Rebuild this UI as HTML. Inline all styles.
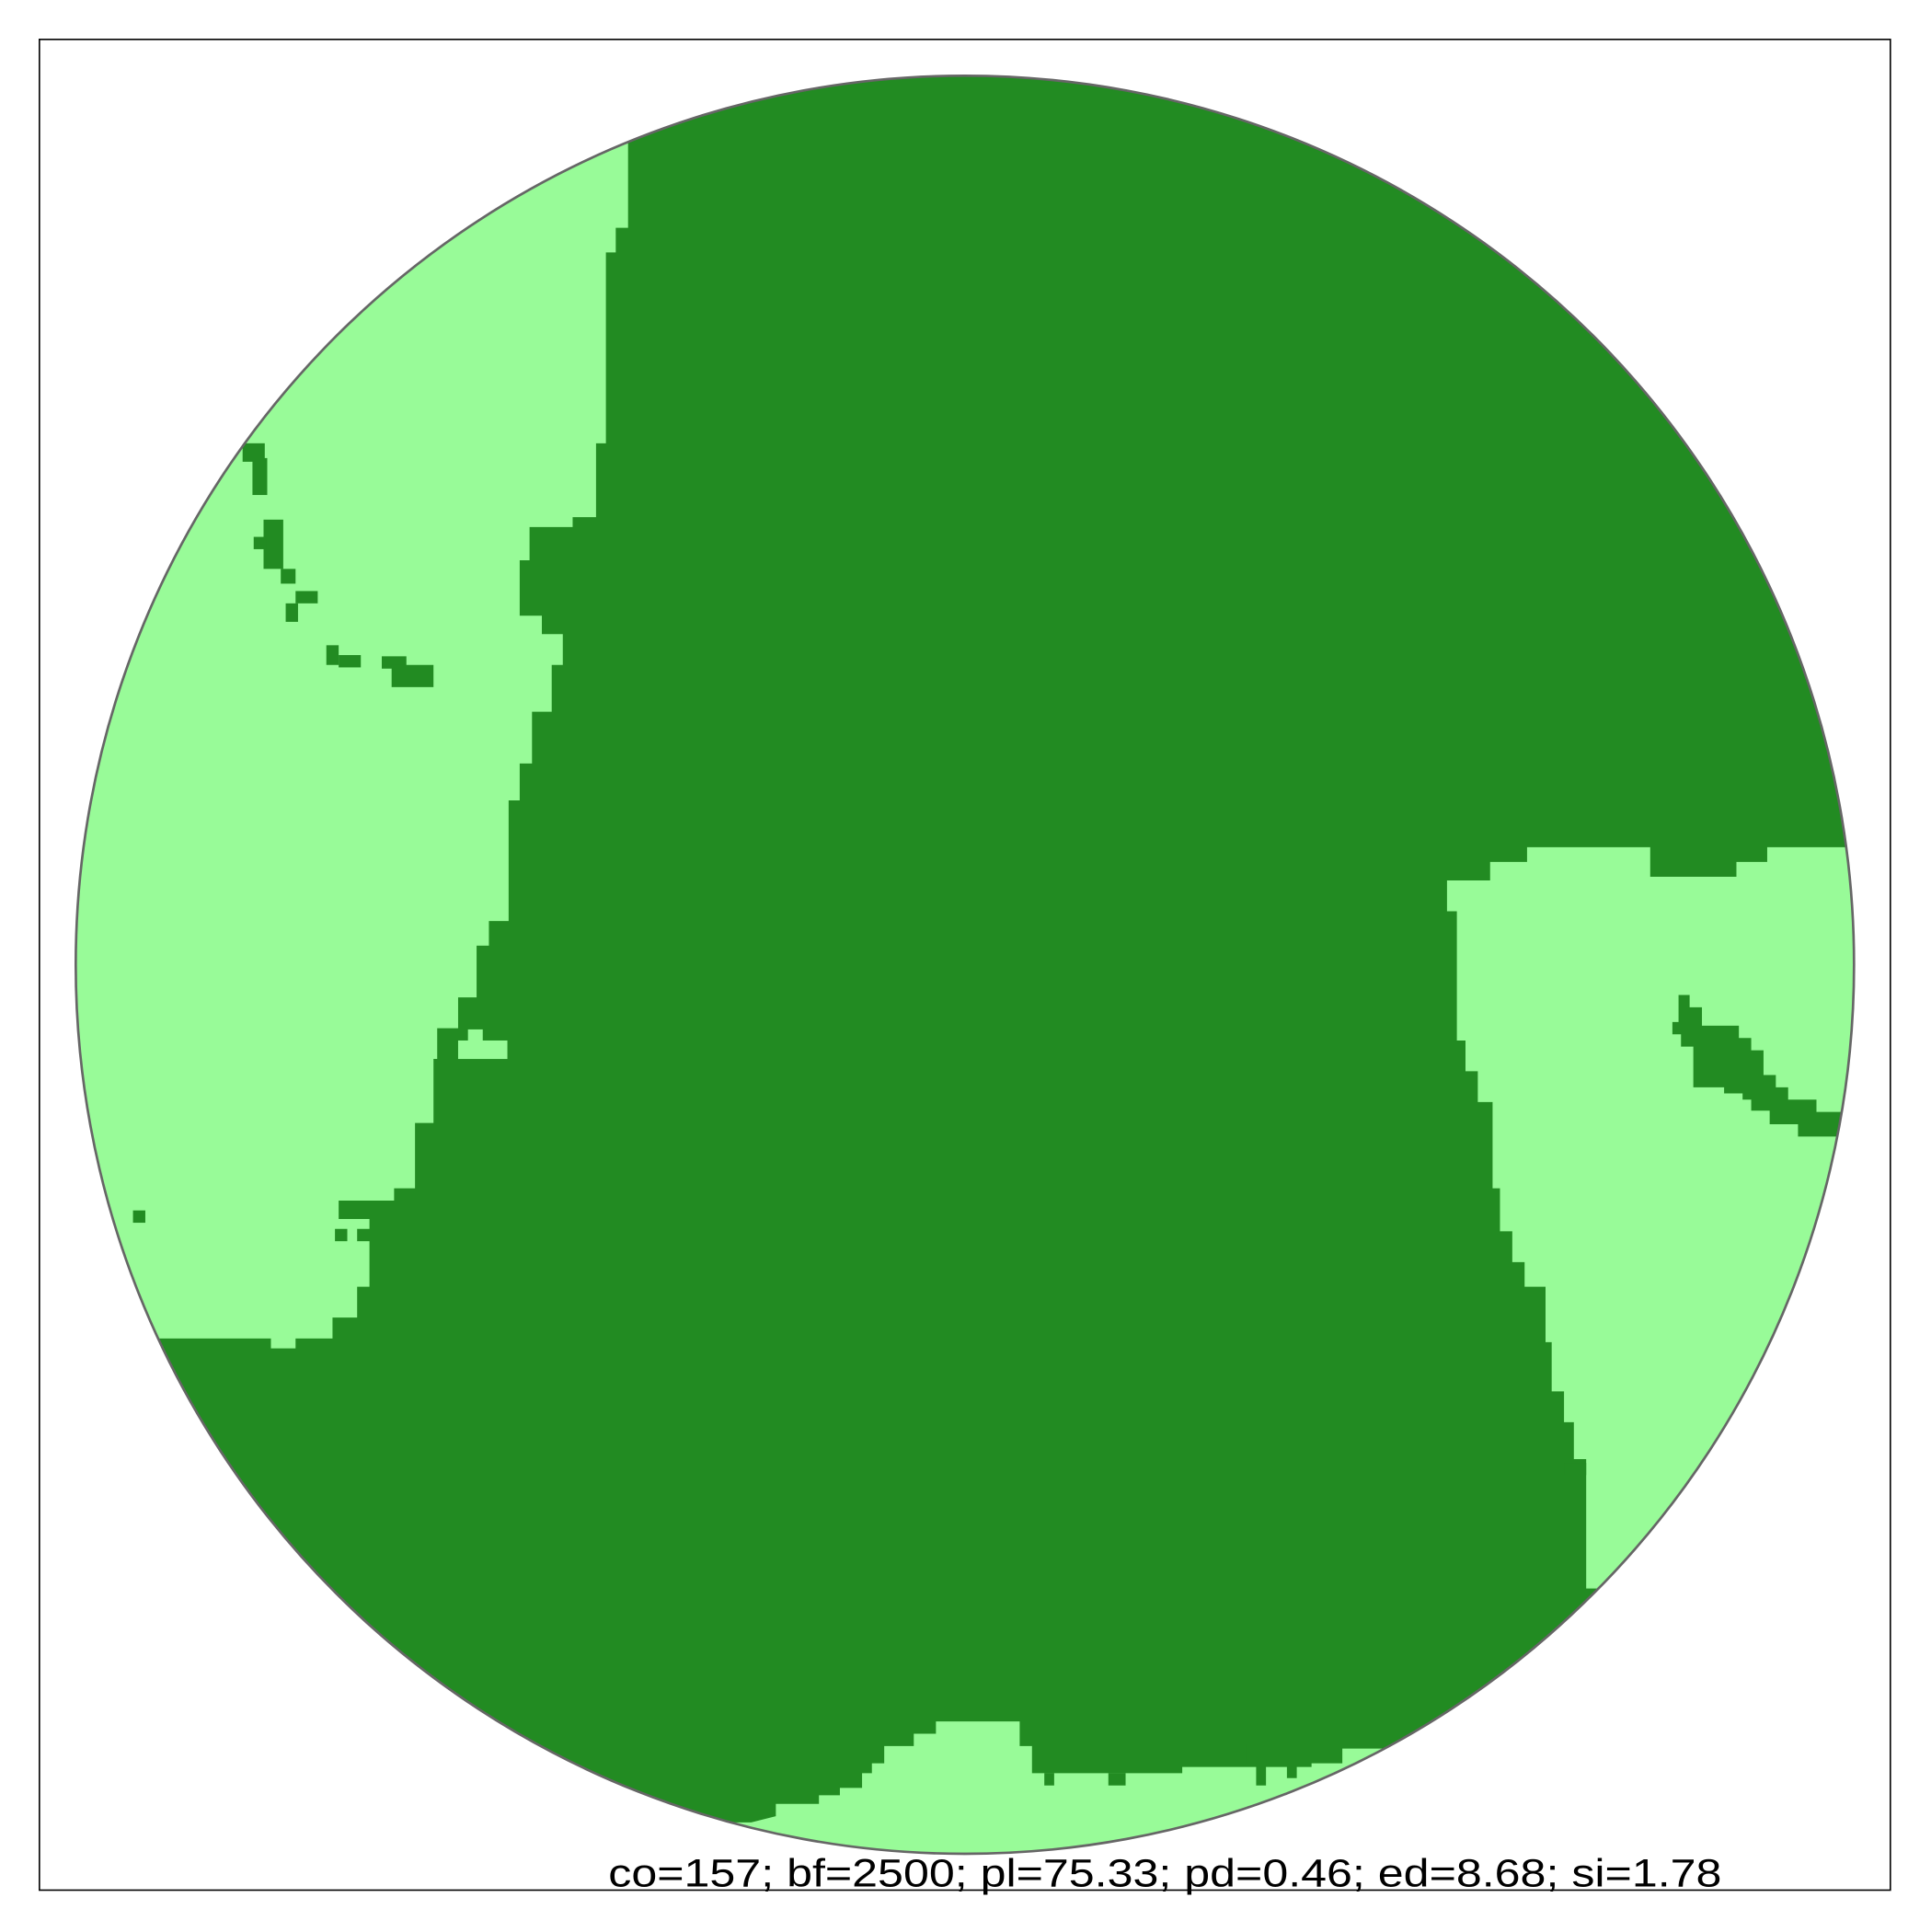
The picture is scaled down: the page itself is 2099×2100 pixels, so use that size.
<!DOCTYPE html>
<html><head><meta charset="utf-8"><style>
html,body{margin:0;padding:0;background:#fff;}
svg{display:block;}
</style></head><body>
<svg width="2099" height="2100" viewBox="0 0 1568 1569" preserveAspectRatio="none" xmlns="http://www.w3.org/2000/svg">
<defs><clipPath id="cc"><circle cx="783.5" cy="783.5" r="722"/></clipPath></defs>
<rect x="32" y="32" width="1503" height="1503" fill="#fff" stroke="#000" stroke-width="1.2"/>
<g clip-path="url(#cc)" id="mapg">
<circle cx="783.5" cy="783.5" r="722" fill="#228B22"/>
</g>
<circle cx="783.5" cy="783.5" r="722" fill="none" stroke="#666" stroke-width="2"/>
<text x="946" y="1532" text-anchor="middle" font-family="Liberation Sans, sans-serif" font-size="32" fill="#000" textLength="904" lengthAdjust="spacingAndGlyphs">co=157; bf=2500; pl=75.33; pd=0.46; ed=8.68; si=1.78</text>
</svg>
<script>
const leftPatch=[[510,0],[510,185],[500,185],[500,205],[492,205],[492,360],[484,360],[484,420],[465,420],[465,428],[430,428],[430,455],[422,455],[422,500],[440,500],[440,515],[457,515],[457,540],[448,540],[448,578],[432,578],[432,620],[422,620],[422,650],[413,650],[413,748],[397,748],[397,768],[387,768],[387,810],[372,810],[372,835],[355,835],[355,860],[352,860],[352,912],[337,912],[337,965],[320,965],[320,975],[275,975],[275,990],[300,990],[300,1045],[290,1045],[290,1070],[270,1070],[270,1087],[240,1087],[240,1095],[220,1095],[220,1087],[0,1087],[0,0]];
const rightPatch=[[1175,715],[1210,715],[1210,700],[1240,700],[1240,688],[1340,688],[1340,712],[1410,712],[1410,700],[1435,700],[1435,688],[1600,688],[1600,1290],[1288,1290],[1288,1185],[1278,1185],[1278,1155],[1270,1155],[1270,1130],[1260,1130],[1260,1090],[1255,1090],[1255,1045],[1238,1045],[1238,1025],[1228,1025],[1228,1000],[1218,1000],[1218,965],[1212,965],[1212,895],[1200,895],[1200,870],[1190,870],[1190,845],[1183,845],[1183,740],[1175,740]];
const bottomPatch=[[760,1398],[828,1398],[828,1418],[838,1418],[838,1440],[960,1440],[960,1435],[1065,1435],[1065,1432],[1090,1432],[1090,1420],[1200,1420],[1200,1600],[500,1600],[500,1480],[610,1480],[630,1475],[630,1465],[665,1465],[665,1458],[682,1458],[682,1452],[700,1452],[700,1440],[708,1440],[708,1432],[718,1432],[718,1418],[742,1418],[742,1408],[760,1408]];
const rightIsland=[[1363,808],[1372,808],[1372,818],[1382,818],[1382,833],[1412,833],[1412,843],[1422,843],[1422,853],[1432,853],[1432,873],[1442,873],[1442,883],[1452,883],[1452,893],[1475,893],[1475,903],[1497,903],[1497,923],[1460,923],[1460,913],[1437,913],[1437,902],[1422,902],[1422,893],[1415,893],[1415,888],[1400,888],[1400,883],[1375,883],[1375,850],[1365,850],[1365,840],[1358,840],[1358,830],[1363,830]];
const darkRects=[[197,360,18,15],[205,372,12,30],[214,422,16,40],[206,436,10,10],[228,462,12,12],[240,480,18,10],[232,490,10,15],[265,524,10,16],[275,532,18,10],[310,533,20,10],[318,540,34,18],[108,983,10,10],[272,998,10,10],[290,998,12,10],[1270,1188,18,10],[1012,1416,10,16],[1020,1428,8,22],[848,1440,8,10],[900,1440,14,10],[1030,1416,8,8],[1045,1430,8,14]];
const lightRects=[[372,845,40,15],[380,836,12,10]];
const g=document.getElementById('mapg');
const NS='http://www.w3.org/2000/svg';
function poly(pts,fill,name){const p=document.createElementNS(NS,'polygon');p.setAttribute('points',pts.map(q=>q.join(',')).join(' '));p.setAttribute('fill',fill);


g.appendChild(p);}
function rect(r,fill,name){const e=document.createElementNS(NS,'rect');e.setAttribute('x',r[0]);e.setAttribute('y',r[1]);e.setAttribute('width',r[2]);e.setAttribute('height',r[3]);e.setAttribute('fill',fill);


g.appendChild(e);}
poly(leftPatch,'#98FB98','grassland-patch-west');
poly(rightPatch,'#98FB98','grassland-patch-east');
poly(bottomPatch,'#98FB98','grassland-patch-south');
poly(rightIsland,'#228B22','forest-island-east');
darkRects.forEach(r=>rect(r,'#228B22','forest-cell'));
lightRects.forEach(r=>rect(r,'#98FB98','grassland-cell'));
</script>
</body></html>
